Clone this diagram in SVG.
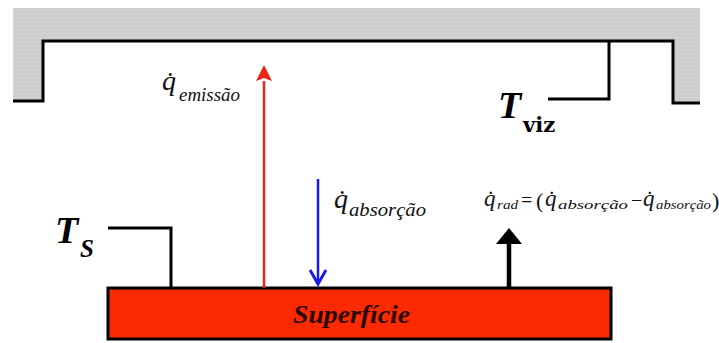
<svg xmlns="http://www.w3.org/2000/svg" width="719" height="343" viewBox="0 0 719 343">
<defs>
<pattern id="dots" width="4" height="4" patternUnits="userSpaceOnUse">
<rect width="4" height="4" fill="#cdcdcd"/>
<rect x="1" y="1" width="1" height="1" fill="#e8e8e8"/>
</pattern>
<marker id="hRed" markerWidth="16" markerHeight="16" refX="0" refY="8" orient="auto" markerUnits="userSpaceOnUse">
<path d="M0,0 L16,8 L0,16 L3,8 z" fill="#ea2418"/>
</marker>
<marker id="hBlue" markerWidth="18" markerHeight="18" refX="15" refY="9" orient="auto" markerUnits="userSpaceOnUse">
<path d="M1,1 L15,9 L1,17" fill="none" stroke="#1a1aee" stroke-width="3" stroke-linejoin="miter"/>
</marker>
<marker id="hBlack" markerWidth="16" markerHeight="26" refX="0" refY="13" orient="auto" markerUnits="userSpaceOnUse">
<path d="M0,0 L16,13 L0,26 z" fill="#000"/>
</marker>
</defs>
<style>
.wall{stroke:#000;stroke-width:3;fill:none;stroke-linejoin:miter}
.q{font-family:"Liberation Serif","DejaVu Serif",serif;font-style:italic;fill:#111}
.n{font-style:normal}
.T{font-family:"Liberation Serif","DejaVu Serif",serif;font-style:italic;font-weight:bold;fill:#000}
.sub{font-family:"DejaVu Serif",serif;font-weight:bold;fill:#000}
.sup{font-family:"Liberation Serif","DejaVu Serif",serif;font-style:italic;font-weight:bold;fill:#2a0806}
</style>
<g id="vizinhanca">
<path d="M13,8 L700,8 L700,103 L673,103 L673,41 L43,41 L43,101 L13,101 Z" fill="url(#dots)"/>
<polyline class="wall" points="13,101 43,101 43,41 673,41 673,103 700,103"/>
</g>
<g id="superficie">
<rect x="108" y="288" width="503" height="51" fill="#fb2a00" stroke="#000" stroke-width="3"/>
<text class="sup" x="293" y="323" font-size="25" textLength="117" lengthAdjust="spacingAndGlyphs">Superfície</text>
</g>
<g id="label-Tviz">
<polyline class="wall" points="548,99 609,99 609,41"/>
<text class="T" x="498" y="118" font-size="38">T</text>
<text class="sub" x="523" y="132" font-size="21">viz</text>
</g>
<g id="label-Ts">
<polyline class="wall" points="108,228 171,228 171,288"/>
<text class="T" x="55" y="243" font-size="38">T</text>
<text class="T" x="80" y="257" font-size="25">S</text>
</g>
<g id="connectors">
<line x1="264" y1="288" x2="264" y2="81" stroke="#ea2418" stroke-width="2.5" marker-end="url(#hRed)"/>
<line x1="318" y1="179" x2="318" y2="284" stroke="#1a1aee" stroke-width="2.5" marker-end="url(#hBlue)"/>
<line x1="509" y1="288" x2="509" y2="244" stroke="#000" stroke-width="4.5" marker-end="url(#hBlack)"/>
</g>
<g id="label-emissao">
<text class="q" font-size="28"><tspan x="162" y="90">q̇</tspan><tspan x="179" y="101" font-size="18" textLength="61" lengthAdjust="spacingAndGlyphs">emissão</tspan></text>
</g>
<g id="label-absorcao">
<text class="q" font-size="28"><tspan x="334" y="208">q̇</tspan><tspan x="349" y="216" font-size="18" textLength="77" lengthAdjust="spacingAndGlyphs">absorção</tspan></text>
</g>
<g id="label-qrad">
<text class="q" font-size="23"><tspan x="484" y="206">q̇</tspan><tspan x="497" y="209" font-size="13" textLength="21" lengthAdjust="spacingAndGlyphs">rad</tspan><tspan class="n" x="521" y="207" font-size="20">=</tspan><tspan class="n" x="536" y="208" font-size="22">(</tspan><tspan x="545" y="206">q̇</tspan><tspan x="558" y="209" font-size="13" textLength="70" lengthAdjust="spacingAndGlyphs">absorção</tspan><tspan class="n" x="631" y="207" font-size="20">−</tspan><tspan x="643" y="206">q̇</tspan><tspan x="656" y="209" font-size="13" textLength="55" lengthAdjust="spacingAndGlyphs">absorção</tspan><tspan class="n" x="712" y="208" font-size="22">)</tspan></text>
</g>
</svg>
